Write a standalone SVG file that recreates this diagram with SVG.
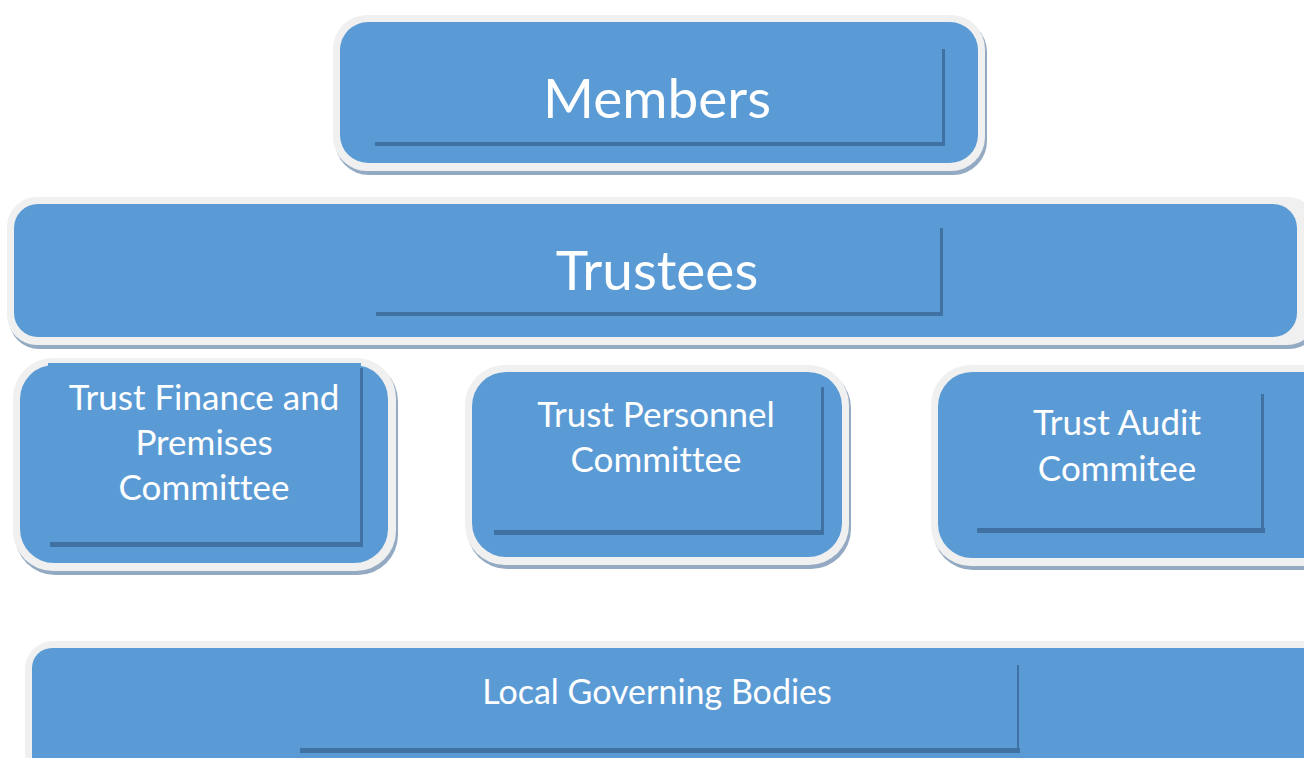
<svg xmlns="http://www.w3.org/2000/svg" width="1304" height="758" viewBox="0 0 1304 758">
<style>
.sh{fill:#93aac2}
.rim{fill:#f0f0f0}
.box{fill:#5b9bd5}
.ln{fill:#3f72a3}
.t{font-family:Lato,"Open Sans","Liberation Sans",sans-serif;fill:#ffffff;text-anchor:middle;font-variant-ligatures:none}
</style>
<rect width="1304" height="758" fill="#ffffff"/>
<g id="members">
<rect class="sh" x="335" y="18" width="652" height="157" rx="34"/>
<rect class="rim" x="333" y="15" width="652" height="156" rx="34"/>
<rect class="box" x="340" y="22" width="638" height="141" rx="28"/>
<rect class="ln" x="375" y="142" width="570" height="4"/>
<rect class="ln" x="942" y="49" width="3" height="97"/>
<text class="t" x="657" y="118" font-size="55">Members</text>
</g>
<g id="trustees">
<rect class="sh" x="9" y="200" width="1310" height="149" rx="30"/>
<rect class="rim" x="7" y="197" width="1310" height="148" rx="30"/>
<rect class="box" x="14" y="204" width="1283" height="133" rx="24"/>
<rect class="ln" x="376" y="312" width="567" height="4"/>
<rect class="ln" x="940" y="228" width="3" height="88"/>
<text class="t" x="657" y="290" font-size="55">Trustees</text>
</g>
<g id="finance">
<rect class="sh" x="15" y="361" width="383" height="214" rx="40"/>
<rect class="rim" x="13" y="358" width="383" height="213" rx="40"/>
<rect class="box" x="20" y="365" width="368" height="198" rx="34"/>
<rect class="box" x="48" y="363" width="313" height="20"/>
<rect class="ln" x="50" y="542" width="313" height="5"/>
<rect class="ln" x="360" y="368" width="3" height="179"/>
<text class="t" x="204" y="410" font-size="35">Trust Finance and</text>
<text class="t" x="204" y="455" font-size="35">Premises</text>
<text class="t" x="204" y="500" font-size="35">Committee</text>
</g>
<g id="personnel">
<rect class="sh" x="467" y="368" width="384" height="201" rx="40"/>
<rect class="rim" x="465" y="365" width="384" height="200" rx="40"/>
<rect class="box" x="472" y="372" width="370" height="185" rx="34"/>
<rect class="ln" x="494" y="530" width="330" height="5"/>
<rect class="ln" x="821" y="387" width="3" height="148"/>
<text class="t" x="656" y="427" font-size="35">Trust Personnel</text>
<text class="t" x="656" y="472" font-size="35">Committee</text>
</g>
<g id="audit">
<rect class="sh" x="933" y="368" width="420" height="202" rx="40"/>
<rect class="rim" x="931" y="365" width="420" height="201" rx="40"/>
<rect class="box" x="938" y="372" width="405" height="186" rx="34"/>
<rect class="ln" x="977" y="528" width="288" height="5"/>
<rect class="ln" x="1261" y="394" width="3" height="139"/>
<text class="t" x="1117" y="435" font-size="35">Trust Audit</text>
<text class="t" x="1117" y="481" font-size="35">Commitee</text>
</g>
<g id="local">
<rect class="rim" x="25" y="641" width="1320" height="160" rx="28"/>
<rect class="box" x="32" y="648" width="1300" height="150" rx="20"/>
<rect class="ln" x="300" y="748" width="720" height="5"/>
<rect class="ln" x="1017" y="665" width="2" height="88"/>
<text class="t" x="657" y="704" font-size="34">Local Governing Bodies</text>
</g>
<g id="connectors"></g>
</svg>
